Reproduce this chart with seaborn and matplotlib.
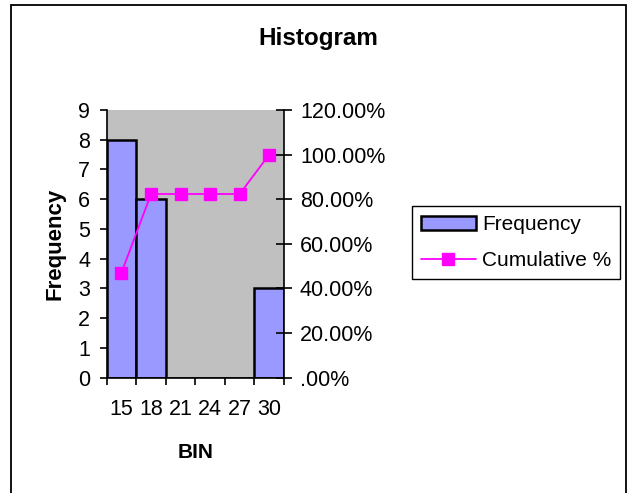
import matplotlib
matplotlib.use('Agg')
import matplotlib.pyplot as plt
import seaborn as sns
from matplotlib.patches import Rectangle
from matplotlib.ticker import FixedLocator, FuncFormatter

bins = ['15', '18', '21', '24', '27', '30']
frequency = [8, 6, 0, 0, 0, 3]
cumulative = [0.4706, 0.8235, 0.8235, 0.8235, 0.8235, 1.0]

sns.set_style('white')
plt.rcParams['font.family'] = ['Liberation Sans', 'DejaVu Sans']
plt.rcParams['text.color'] = 'black'
plt.rcParams['axes.labelcolor'] = 'black'
plt.rcParams['xtick.color'] = 'black'
plt.rcParams['ytick.color'] = 'black'

fig = plt.figure(figsize=(6.31, 4.93), dpi=100)
ax = fig.add_axes([106.7 / 631, 1 - 377.7 / 493, (284 - 106.7) / 631, (377.7 - 110) / 493])
ax.set_facecolor('#C0C0C0')

sns.barplot(x=bins, y=frequency, ax=ax, color='#9999FF', saturation=1,
            width=1, edgecolor='black', linewidth=1.8)

ax2 = ax.twinx()
sns.pointplot(x=bins, y=cumulative, ax=ax2, color='#FF00FF', markers='s',
              markersize=8.5, linewidth=1.3, legend=False)

ax.set_xlim(-0.5, 5.5)
ax.set_ylim(0, 9)
ax2.set_ylim(0, 1.2)
ax.set_yticks(range(0, 10))
ax2.set_yticks([0, 0.2, 0.4, 0.6, 0.8, 1.0, 1.2])

def pct(v, pos):
    s = f'{v * 100:.2f}%'
    return s[1:] if s.startswith('0.') else s

ax2.yaxis.set_major_formatter(FuncFormatter(pct))

# x ticks at bin edges, labels at bin centres
ax.xaxis.set_major_locator(FixedLocator([i - 0.5 for i in range(7)]))
ax.xaxis.set_minor_locator(FixedLocator(range(6)))
ax.set_xticklabels([''] * 7)
ax.set_xticklabels(bins, minor=True)
ax.tick_params(axis='x', which='major', direction='out', length=5, width=1.2, bottom=True)
ax.tick_params(axis='x', which='minor', length=0, pad=15, labelsize=15.5)
ax.tick_params(axis='y', direction='out', length=5, width=1.2, left=True, pad=7, labelsize=15.5)
ax2.tick_params(axis='y', direction='inout', length=11, width=1.2, right=True, pad=6, labelsize=15.5)

for a in (ax, ax2):
    a.spines['top'].set_visible(False)
    for s in ('left', 'right', 'bottom'):
        a.spines[s].set_linewidth(1.2)
        a.spines[s].set_color('black')
ax.spines['right'].set_visible(False)
ax2.spines['left'].set_visible(False)
ax2.spines['bottom'].set_visible(False)
ax2.set_xlabel('')
ax2.set_ylabel('')

ax.set_xlabel('BIN', fontsize=15, fontweight='bold', labelpad=17)
ax.set_ylabel('Frequency', fontsize=16, fontweight='bold', labelpad=9)
fig.text(318.5 / 631, 1 - 38 / 493, 'Histogram', ha='center', va='center',
         fontsize=17.5, fontweight='bold')

handles = [ax.containers[0].patches[0], ax2.lines[0]]
leg = fig.legend(handles, ['Frequency', 'Cumulative %'], loc='upper left',
                 bbox_to_anchor=(412 / 631, 1 - 206 / 493), fontsize=15,
                 frameon=True, fancybox=False, edgecolor='black', framealpha=1,
                 borderaxespad=0, handlelength=2.6, labelspacing=0.8,
                 handletextpad=0.3, borderpad=0.45)
leg.get_frame().set_linewidth(1.0)

fig.patches.append(Rectangle((11 / 631, -0.05), (626 - 11) / 631, 1.05 - 5 / 493,
                             transform=fig.transFigure, fill=False,
                             edgecolor='black', linewidth=1.3))

fig.savefig('out.png', dpi=100)
